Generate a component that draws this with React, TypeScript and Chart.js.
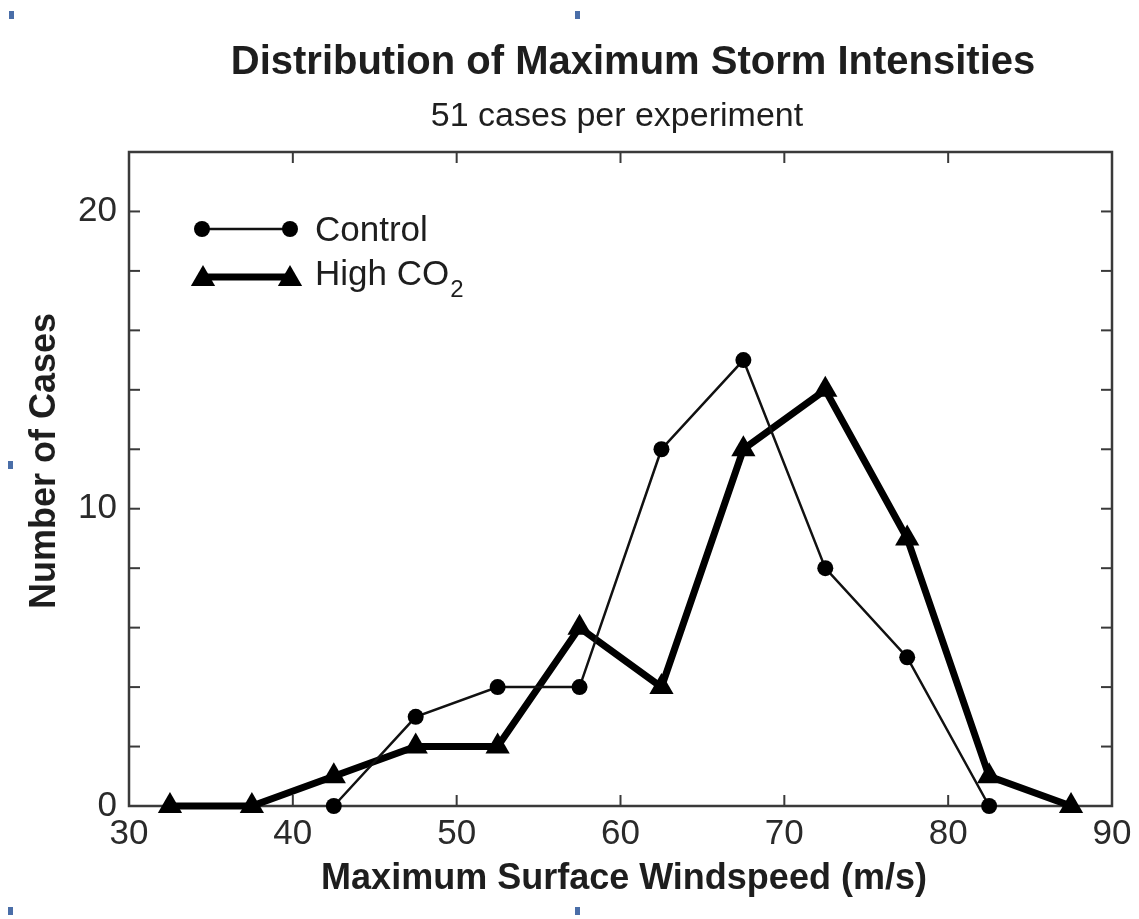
import React, { useEffect, useRef } from "react";
import { Chart, registerables } from "chart.js";

Chart.register(...registerables);

const TITLE = "Distribution of Maximum Storm Intensities";
const SUBTITLE = "51 cases per experiment";
const X_TITLE = "Maximum Surface Windspeed (m/s)";
const Y_TITLE = "Number of Cases";
const CONTROL_LABEL = "Control";
const HIGH_LABEL_MAIN = "High CO";
const HIGH_LABEL_SUB = "2";

const controlSpeeds = [42.5, 47.5, 52.5, 57.5, 62.5, 67.5, 72.5, 77.5, 82.5];
const controlCounts = [0, 3, 4, 4, 12, 15, 8, 5, 0];
const highCO2Speeds = [32.5, 37.5, 42.5, 47.5, 52.5, 57.5, 62.5, 67.5, 72.5, 77.5, 82.5, 87.5];
const highCO2Counts = [0, 0, 1, 2, 2, 6, 4, 12, 14, 9, 1, 0];

const X_MIN = 30;
const X_MAX = 90;
const X_STEP = 10;
const Y_MIN = 0;
const Y_MAX = 22;
const Y_STEP = 2;
const Y_LABEL_EVERY = 10;

const FONT = "'Liberation Sans', Arial, Helvetica, sans-serif";
const AXIS_COLOR = "#3a3a3a";
const TEXT_COLOR = "#1e1e1e";

const toPoints = (xs: number[], ys: number[]) => xs.map((x, i) => ({ x, y: ys[i] }));

function drawTriangle(ctx: CanvasRenderingContext2D, x: number, y: number, r: number) {
  ctx.beginPath();
  for (let k = 0; k < 3; k++) {
    const a = (k * 2 * Math.PI) / 3;
    const px = x + Math.sin(a) * r;
    const py = y - Math.cos(a) * r;
    if (k === 0) ctx.moveTo(px, py);
    else ctx.lineTo(px, py);
  }
  ctx.closePath();
  ctx.fill();
}

const decorPlugin = {
  id: "decor",
  beforeDatasetsDraw(chart: any) {
    const { ctx, chartArea: a, scales } = chart;
    const xs = scales.x;
    const ys = scales.y;
    ctx.save();
    ctx.strokeStyle = AXIS_COLOR;
    ctx.lineWidth = 2;
    const tl = 11;
    const seg = (x1: number, y1: number, x2: number, y2: number) => {
      ctx.beginPath();
      ctx.moveTo(x1, y1);
      ctx.lineTo(x2, y2);
      ctx.stroke();
    };
    xs.ticks.forEach((t: any) => {
      const px = xs.getPixelForValue(t.value);
      if (px <= a.left + 2 || px >= a.right - 2) return;
      seg(px, a.bottom, px, a.bottom - tl);
      seg(px, a.top, px, a.top + tl);
    });
    ys.ticks.forEach((t: any) => {
      const py = ys.getPixelForValue(t.value);
      if (py <= a.top + 2 || py >= a.bottom - 2) return;
      seg(a.left, py, a.left + tl, py);
      seg(a.right, py, a.right - tl, py);
    });
    ctx.lineWidth = 2.5;
    ctx.strokeRect(a.left, a.top, a.right - a.left, a.bottom - a.top);
    ctx.restore();
  },
  afterDraw(chart: any) {
    const { ctx } = chart;
    const ds = chart.data.datasets;
    ctx.save();
    ctx.fillStyle = TEXT_COLOR;
    ctx.textAlign = "center";
    ctx.textBaseline = "middle";
    ctx.font = `bold 40px ${FONT}`;
    ctx.fillText(TITLE, 633, 63);
    ctx.font = `34px ${FONT}`;
    ctx.fillText(SUBTITLE, 617, 117);
    ctx.font = `bold 36px ${FONT}`;
    ctx.fillText(X_TITLE, 624, 879);
    ctx.save();
    ctx.translate(45, 461);
    ctx.rotate(-Math.PI / 2);
    ctx.fillText(Y_TITLE, 0, 0);
    ctx.restore();

    // legend
    const c = ds[0];
    ctx.strokeStyle = c.borderColor;
    ctx.lineWidth = c.borderWidth;
    ctx.beginPath();
    ctx.moveTo(202, 229);
    ctx.lineTo(290, 229);
    ctx.stroke();
    ctx.fillStyle = c.pointBackgroundColor;
    [202, 290].forEach((x) => {
      ctx.beginPath();
      ctx.arc(x, 229, c.pointRadius, 0, Math.PI * 2);
      ctx.fill();
    });
    const h = ds[1];
    ctx.strokeStyle = h.borderColor;
    ctx.lineWidth = h.borderWidth;
    ctx.beginPath();
    ctx.moveTo(203, 277);
    ctx.lineTo(290, 277);
    ctx.stroke();
    ctx.fillStyle = h.pointBackgroundColor;
    [203, 290].forEach((x) => drawTriangle(ctx, x, 279, h.pointRadius));

    ctx.fillStyle = TEXT_COLOR;
    ctx.textAlign = "left";
    ctx.font = `35px ${FONT}`;
    ctx.fillText(CONTROL_LABEL, 315, 231);
    ctx.fillText(HIGH_LABEL_MAIN, 315, 275);
    const w = ctx.measureText(HIGH_LABEL_MAIN).width;
    ctx.font = `24px ${FONT}`;
    ctx.fillText(HIGH_LABEL_SUB, 315 + w + 1, 290);
    ctx.restore();
  },
};

export default function App() {
  const canvasRef = useRef<HTMLCanvasElement | null>(null);

  useEffect(() => {
    const canvas = canvasRef.current;
    if (!canvas) return;
    const chart = new Chart(canvas, {
      type: "line",
      data: {
        datasets: [
          {
            label: CONTROL_LABEL,
            data: toPoints(controlSpeeds, controlCounts),
            borderColor: "#111111",
            borderWidth: 2.5,
            pointStyle: "circle",
            pointRadius: 8,
            pointBackgroundColor: "#000000",
            pointBorderColor: "#000000",
            pointBorderWidth: 0,
            tension: 0,
            clip: false,
            order: 0,
          } as any,
          {
            label: "High CO₂",
            data: toPoints(highCO2Speeds, highCO2Counts),
            borderColor: "#000000",
            borderWidth: 7,
            pointStyle: "triangle",
            pointRadius: 14,
            pointBackgroundColor: "#000000",
            pointBorderColor: "#000000",
            pointBorderWidth: 0,
            tension: 0,
            clip: false,
            order: 1,
          } as any,
        ],
      },
      options: {
        responsive: false,
        maintainAspectRatio: false,
        animation: false,
        events: [],
        layout: { padding: { left: 0, right: 27, top: 152, bottom: 0 } },
        plugins: {
          legend: { display: false },
          tooltip: { enabled: false },
          title: { display: false },
        },
        scales: {
          x: {
            type: "linear",
            min: X_MIN,
            max: X_MAX,
            grid: { display: false, drawTicks: false },
            border: { display: false },
            ticks: {
              stepSize: X_STEP,
              autoSkip: false,
              maxRotation: 0,
              padding: 7,
              color: "#2a2a2a",
              font: { family: FONT, size: 35 },
            },
            afterFit: (s: any) => {
              s.height = 113;
            },
          },
          y: {
            type: "linear",
            min: Y_MIN,
            max: Y_MAX,
            grid: { display: false, drawTicks: false },
            border: { display: false },
            ticks: {
              stepSize: Y_STEP,
              autoSkip: false,
              padding: 12,
              color: "#2a2a2a",
              font: { family: FONT, size: 35 },
              callback: (v: any) => (Number(v) % Y_LABEL_EVERY === 0 ? String(v) : ""),
            },
            afterFit: (s: any) => {
              s.width = 129;
            },
          },
        },
      } as any,
      plugins: [decorPlugin],
    });
    return () => chart.destroy();
  }, []);

  const mark = (left: number, top: number) => (
    <div
      style={{
        position: "absolute",
        left,
        top,
        width: 5,
        height: 8,
        background: "#4a6ea8",
      }}
    />
  );

  return (
    <div
      style={{
        position: "absolute",
        left: 0,
        top: 0,
        width: 1139,
        height: 919,
        background: "#ffffff",
        overflow: "hidden",
      }}
    >
      <canvas ref={canvasRef} width={1139} height={919} style={{ display: "block" }} />
      {mark(9, 11)}
      {mark(575, 11)}
      {mark(8, 461)}
      {mark(8, 907)}
      {mark(575, 907)}
    </div>
  );
}
